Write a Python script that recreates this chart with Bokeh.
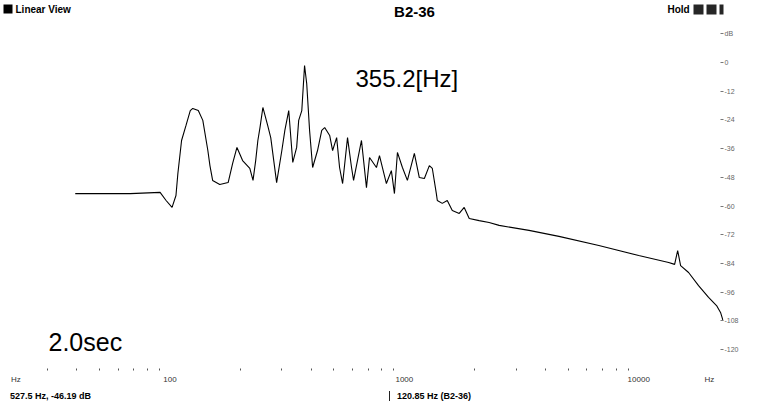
from bokeh.plotting import figure
from bokeh.models import Range1d, FixedTicker, Label, BoxAnnotation, Div
from bokeh.layouts import column
from bokeh.embed import file_html
from bokeh.resources import INLINE

# ---- spectrum trace ----
freq_hz = [39.4, 42.6, 54.0, 67.6, 90.7, 96.2, 102, 106, 108, 112, 117, 122, 125, 132, 138,
           145, 148, 152, 163, 177, 185, 193, 204, 219, 226, 232, 237, 242, 249, 261,
           269, 285, 300, 309, 321, 334, 347, 354, 365, 375, 383, 394, 406, 426, 444,
           457, 480, 494, 514, 529, 545, 572, 595, 607, 656, 689, 710, 760, 783, 838,
           880, 907, 934, 981, 1030, 1103, 1158, 1217, 1278, 1316, 1369, 1382, 1451, 1524, 1601,
           1714, 1800, 1891, 2085, 2299, 2537, 3403, 4566, 6758, 10000, 13420, 14230, 14660, 15090, 16320,
           18000, 19860, 21480, 22340, 22900]
level_db = [-54.8, -54.8, -54.8, -54.8, -54.3, -57.7, -60.6, -55.6, -46.4, -32.6, -26.3, -20.1, -19.2, -20.1, -24.2,
            -36.8, -43.1, -49.3, -51.0, -50.2, -42.2, -35.5, -41.0, -44.3, -49.3, -41.0, -32.6, -27.2, -18.8, -26.3,
            -31.4, -50.2, -36.8, -28.4, -20.1, -41.8, -35.5, -24.2, -20.1, -1.3, -8.8, -28.4, -43.9, -36.8, -28.4,
            -27.2, -30.5, -36.8, -31.4, -43.9, -50.6, -31.4, -43.9, -49.3, -32.6, -52.3, -39.7, -43.9, -38.9, -50.6,
            -45.2, -54.8, -37.6, -43.9, -49.3, -38.0, -48.1, -48.5, -43.1, -44.3, -54.8, -57.7, -58.9, -57.7, -61.9,
            -63.1, -60.6, -65.2, -66.1, -66.9, -68.1, -70.2, -72.7, -76.5, -80.7, -83.6, -84.4, -78.6, -84.9, -87.8,
            -93.3, -98.2, -101.6, -104.5, -107.9]

# ---- axis ticks ----
x_ticks = [22, 100, 1000, 10000, 20000]
x_tick_labels = ["Hz", "100", "1000", "10000", "Hz"]
x_minor_ticks = [30, 40, 50, 60, 70, 80, 90,
                 200, 300, 400, 500, 600, 700, 800, 900,
                 2000, 3000, 4000, 5000, 6000, 7000, 8000, 9000]
y_ticks = [12, 0, -12, -24, -36, -48, -60, -72, -84, -96, -108, -120]
y_tick_labels = ["dB", "0", "-12", "-24", "-36", "-48", "-60", "-72", "-84", "-96", "-108", "-120"]

# ---- texts ----
title_text = "B2-36"
view_text = "Linear View"
hold_text = "Hold"
peak_text = "355.2[Hz]"
time_text = "2.0sec"
cursor_text = "527.5 Hz, -46.19 dB"
ref_text = "120.85 Hz (B2-36)"

FONT = "Liberation Sans"

p = figure(width=741, height=386, output_backend="svg", toolbar_location=None,
           x_axis_type="log", y_axis_location="right",
           x_range=Range1d(19.28, 23000), y_range=Range1d(-127.93, 25.92),
           min_border_left=2, min_border_right=16, min_border_top=0, min_border_bottom=18)
p.background_fill_color = "white"
p.border_fill_color = "white"
p.outline_line_color = None
p.xgrid.visible = False
p.ygrid.visible = False

p.line(freq_hz, level_db, line_color="black", line_width=1.1)

# bottom axis
xa = p.xaxis[0]
xa.ticker = FixedTicker(ticks=x_ticks, minor_ticks=x_minor_ticks)
xa.major_label_overrides = {t: s for t, s in zip(x_ticks, x_tick_labels)}
xa.axis_line_color = None
xa.major_tick_line_color = None
xa.major_tick_out = 0
xa.major_tick_in = 0
xa.minor_tick_line_color = "#555555"
xa.minor_tick_out = 2
xa.minor_tick_in = 0
xa.major_label_standoff = 4
xa.major_label_text_font = FONT
xa.major_label_text_font_size = "8px"
xa.major_label_text_color = "#333333"

# right axis
ya = p.yaxis[0]
ya.ticker = FixedTicker(ticks=y_ticks)
ya.major_label_overrides = {t: s for t, s in zip(y_ticks, y_tick_labels)}
ya.axis_line_color = None
ya.major_tick_line_color = "#777777"
ya.major_tick_out = 0
ya.major_tick_in = 3
ya.minor_tick_line_color = None
ya.major_label_standoff = 1
ya.major_label_text_font = FONT
ya.major_label_text_font_size = "7px"
ya.major_label_text_color = "#666666"

def label(text, x, y, size, bold=False, align="left", color="black"):
    p.add_layout(Label(x=x, y=y, x_units="screen", y_units="screen", text=text,
                       text_font=FONT, text_font_size=size,
                       text_font_style="bold" if bold else "normal",
                       text_align=align, text_baseline="middle", text_color=color))

def box(l, r, b, t, color="black", alpha=1.0):
    p.add_layout(BoxAnnotation(left=l, right=r, bottom=b, top=t, left_units="screen",
                               right_units="screen", bottom_units="screen", top_units="screen",
                               fill_color=color, fill_alpha=alpha, line_color=None))

# header (frame: left at x 2, bottom at y 368)
box(1, 10, 355, 364)
label(view_text, 13, 359, "10px", bold=True)
label(title_text, 412, 357, "15px", bold=True, align="center")
label(hold_text, 665, 359, "10px", bold=True)
for l, r in [(691, 701), (704, 714), (717, 723)]:
    box(l, r, 354, 364, alpha=0.85)

# annotations
label(peak_text, 353, 290, "24px")
label(time_text, 46, 27, "25px")

# status bar
status = Div(width=741, height=5, text=(
    '<div style="position:relative;width:741px;height:5px;overflow:visible;'
    'font-family:\'Liberation Sans\';font-weight:bold;font-size:9px;line-height:9px;color:black;">'
    f'<span style="position:absolute;left:5px;top:-6px;white-space:nowrap;">{cursor_text}</span>'
    '<span style="position:absolute;left:384px;top:-7px;width:1px;height:10px;background:#222;"></span>'
    f'<span style="position:absolute;left:392px;top:-6px;white-space:nowrap;">{ref_text}</span>'
    '</div>'))

layout = column(p, status, spacing=0)
open("out.html", "w").write(file_html(layout, INLINE))
